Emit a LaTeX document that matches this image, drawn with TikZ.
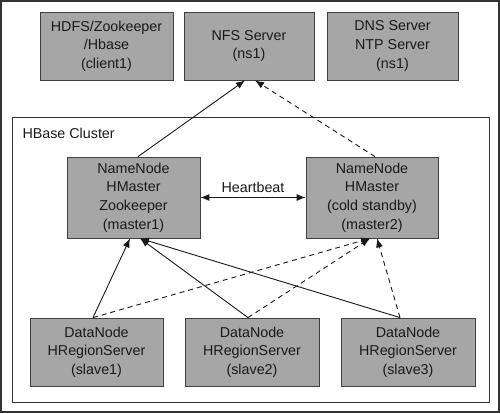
\documentclass[tikz,border=0pt]{standalone}
\usepackage{fontspec}
\setmainfont{Liberation Sans}
\usetikzlibrary{arrows.meta}
\begin{document}
\begin{tikzpicture}[x=1pt,y=-1pt,
  box/.style={draw=black!75,line width=0.8pt,fill=black!35,align=center,inner sep=0pt,
    font=\fontsize{14.3}{18.7}\selectfont,text=black!90},
  conn/.style={line width=0.9pt,draw=black!90,-{Latex[length=9pt,width=7pt]}},
  dconn/.style={conn,dash pattern=on 5pt off 4pt}]
\useasboundingbox (0,0) rectangle (500,413);
\draw[line width=1.6pt,draw=black!80] (1,1) rectangle (499,412);
\draw[line width=0.8pt,draw=black!80] (12,117) rectangle (489,402);
\node[font=\fontsize{14.3}{16}\selectfont,anchor=west,text=black!90] (lbl) at (19,133) {HBase Cluster};
\node[box,minimum width=133pt,minimum height=68pt] (c1) at (106.5,46) {HDFS/Zookeeper\\/Hbase\\(client1)};
\node[box,minimum width=130pt,minimum height=68pt] (nfs) at (249,46) {NFS Server\\(ns1)};
\node[box,minimum width=131pt,minimum height=68pt] (dns) at (392.5,46) {DNS Server\\NTP Server\\(ns1)};
\node[box,minimum width=133pt,minimum height=81pt] (m1) at (133.5,197.5) {NameNode\\HMaster\\Zookeeper\\(master1)};
\node[box,minimum width=132pt,minimum height=81pt] (m2) at (372,197.5) {NameNode\\HMaster\\(cold standby)\\(master2)};
\node[box,minimum width=133pt,minimum height=68pt] (s1) at (96.5,352) {DataNode\\HRegionServer\\(slave1)};
\node[box,minimum width=134pt,minimum height=68pt] (s2) at (252,352) {DataNode\\HRegionServer\\(slave2)};
\node[box,minimum width=134pt,minimum height=68pt] (s3) at (408,352) {DataNode\\HRegionServer\\(slave3)};
% heartbeat
\draw[line width=0.9pt,draw=black!90,{Latex[length=9pt,width=7pt]}-{Latex[length=9pt,width=7pt]}] (m1.east) -- (m2.west)
  node[midway,above=1pt,font=\fontsize{14.3}{16}\selectfont,text=black!90] (hb) {Heartbeat};
% to NFS
\draw[conn] ([xshift=4.5pt]m1.north) -- ([xshift=-4pt]nfs.south);
\draw[dconn] ([xshift=3pt]m2.north) -- ([xshift=6pt]nfs.south);
% slaves to master1
\draw[conn] ([xshift=-3.5pt]s1.north) -- ([xshift=-3.5pt]m1.south);
\draw[conn] ([xshift=-4pt]s2.north) -- ([xshift=6.5pt]m1.south);
\draw[conn] ([xshift=-8pt]s3.north) -- ([xshift=6.5pt]m1.south);
% slaves to master2
\draw[dconn] ([xshift=-3.5pt]s1.north) -- ([xshift=-2pt]m2.south);
\draw[dconn] ([xshift=-4pt]s2.north) -- ([xshift=-2pt]m2.south);
\draw[dconn] ([xshift=-8pt]s3.north) -- ([xshift=5pt]m2.south);
\end{tikzpicture}
\end{document}
